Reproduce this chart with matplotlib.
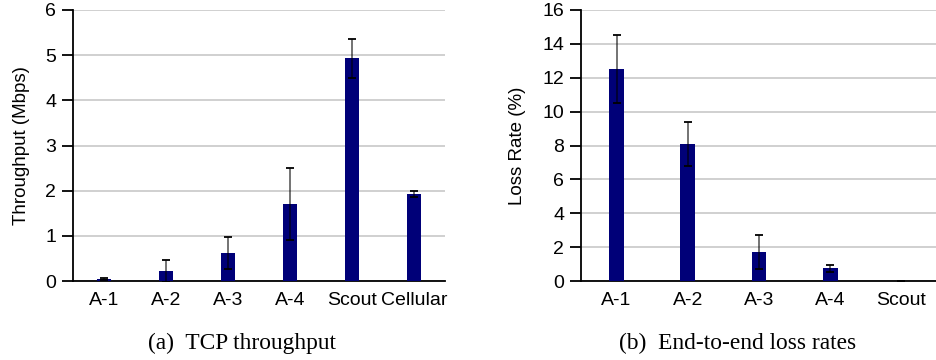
import matplotlib
matplotlib.use('Agg')
import matplotlib.pyplot as plt
import numpy as np

# (a) TCP throughput
tput_labels = ['A-1', 'A-2', 'A-3', 'A-4', 'Scout', 'Cellular']
tput_mean = [0.05, 0.22, 0.62, 1.70, 4.93, 1.93]
tput_err = [0.02, 0.25, 0.36, 0.80, 0.43, 0.06]

# (b) End-to-end loss rates
loss_labels = ['A-1', 'A-2', 'A-3', 'A-4', 'Scout']
loss_mean = [12.5, 8.1, 1.7, 0.75, 0.02]
loss_err = [2.0, 1.3, 1.0, 0.2, 0.0]

bar_color = '#000078'
sans = ['Liberation Sans', 'DejaVu Sans']
serif = ['Liberation Serif', 'DejaVu Serif']

fig = plt.figure(figsize=(9.37, 3.6), dpi=100)
W, H = 937., 360.
top, bot = 10, 281
ax1 = fig.add_axes([73/W, 1-bot/H, (445-73)/W, (bot-top)/H])
ax2 = fig.add_axes([581/W, 1-bot/H, (937-581)/W, (bot-top)/H])

def draw(ax, labels, mean, err, width, ymax, step, ylabel, lpad):
    x = np.arange(len(labels))
    ax.bar(x, mean, width=width, color=bar_color, zorder=3)
    eb = ax.errorbar(x, mean, yerr=err, fmt='none', ecolor='black', alpha=0.55,
                     elinewidth=1.4, capsize=3, capthick=1.3, zorder=4)
    for cap in eb[1]:
        cap.set_alpha(1)
        cap.set_color('black')
        cap.set_markeredgecolor('black')
    ax.set_xlim(-0.5, len(labels)-0.5)
    ax.set_ylim(0, ymax)
    ax.set_yticks(np.arange(0, ymax+step/2, step))
    ax.set_xticks(x)
    ax.set_xticklabels(labels, family=sans, fontsize=14)
    for t in ax.get_yticklabels():
        t.set_family(sans)
        t.set_fontsize(14)
    ax.yaxis.grid(True, color='#c8c8c8', linewidth=1.2, zorder=0)
    ax.set_axisbelow(True)
    for s in ['top', 'right']:
        ax.spines[s].set_visible(False)
    ax.spines['left'].set_linewidth(1.3)
    ax.spines['bottom'].set_linewidth(1.3)
    ax.tick_params(axis='x', length=0, pad=8)
    ax.tick_params(axis='y', length=8, width=1.3, direction='out', pad=4)
    ax.set_ylabel(ylabel, family=sans, fontsize=13.5, labelpad=lpad)

draw(ax1, tput_labels, tput_mean, tput_err, 0.23, 6, 1, 'Throughput (Mbps)', 11)
draw(ax2, loss_labels, loss_mean, loss_err, 0.21, 16, 2, 'Loss Rate (%)', 12)

fig.text(242/W, 1-343/H, '(a)  TCP throughput', family=serif, fontsize=16.8,
         ha='center', va='center')
fig.text(738/W, 1-343/H, '(b)  End-to-end loss rates', family=serif, fontsize=16.8,
         ha='center', va='center')

fig.savefig('out.png', dpi=100)
